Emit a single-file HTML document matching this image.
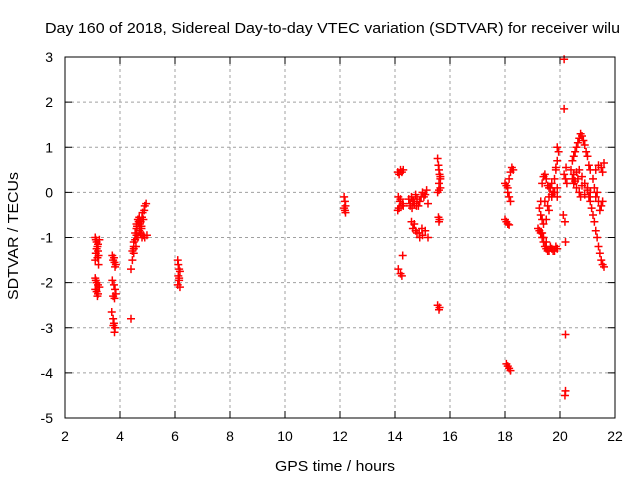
<!DOCTYPE html>
<html><head><meta charset="utf-8"><style>
html,body{margin:0;padding:0;background:#fff;}
svg{display:block;font-family:"Liberation Sans",sans-serif;}
</style></head><body>
<svg id="chart" width="640" height="480">
<text x="45" y="33" font-size="15" textLength="575" lengthAdjust="spacingAndGlyphs">Day 160 of 2018, Sidereal Day-to-day VTEC variation (SDTVAR) for receiver wilu</text>
<text x="275" y="471" font-size="15" textLength="120" lengthAdjust="spacingAndGlyphs">GPS time / hours</text>
<text transform="translate(18,300) rotate(-90)" font-size="15" textLength="128" lengthAdjust="spacingAndGlyphs">SDTVAR / TECUs</text>
<g id="grid"></g><g id="ticks"></g><g id="marks"></g>
<rect x="65" y="57" width="550" height="361" fill="none" stroke="#000" stroke-width="1"/>
</svg>
<script>
const xTicks=[2,4,6,8,10,12,14,16,18,20,22];
const yTicks=[3,2,1,0,-1,-2,-3,-4,-5];
const times=[3.1,3.12,3.15,3.18,3.2,3.22,3.1,3.15,3.2,3.25,3.12,3.18,3.22,3.1,3.15,3.2,3.1,3.15,3.2,3.25,3.12,3.18,
3.72,3.75,3.8,3.85,3.78,3.82,3.72,3.78,3.82,3.85,3.75,3.8,3.7,3.75,3.78,3.82,3.8,3.76,
4.4,4.4,4.45,4.5,4.5,4.55,4.6,4.62,4.65,4.7,4.72,4.75,4.78,4.8,4.82,4.85,4.88,4.9,4.95,4.98,4.5,4.55,4.6,4.65,4.7,4.75,4.8,4.85,4.6,4.7,4.45,4.5,4.58,4.68,4.78,4.9,
6.1,6.12,6.15,6.18,6.12,6.15,6.1,6.18,6.15,
12.15,12.18,12.2,12.15,12.2,12.18,
14.1,14.15,14.2,14.25,14.3,14.12,14.18,14.22,14.28,14.1,14.15,14.2,14.3,14.12,14.2,14.25,14.28,
14.5,14.55,14.6,14.65,14.7,14.75,14.8,14.85,14.9,14.95,15.0,15.05,15.1,15.15,15.2,14.6,14.65,14.7,14.75,14.8,14.9,15.0,15.1,15.2,14.55,14.62,14.68,14.78,14.88,14.98,
15.55,15.58,15.6,15.62,15.65,15.6,15.65,15.55,15.6,15.58,15.62,15.6,15.55,15.62,15.6,15.65,
18.0,18.05,18.1,18.15,18.2,18.25,18.3,18.1,18.15,18.2,18.0,18.05,18.1,18.15,18.05,18.1,18.15,18.2,
19.2,19.25,19.3,19.35,19.4,19.45,19.5,19.55,19.6,19.65,19.7,19.75,19.8,19.85,19.9,19.3,19.35,19.4,19.45,19.5,19.55,19.6,19.7,19.8,19.9,19.25,19.3,19.35,19.4,19.5,19.6,19.7,19.8,19.9,19.35,19.4,19.5,19.45,19.55,19.6,19.65,19.7,19.75,19.85,19.9,19.95,19.8,19.85,19.9,
20.15,20.15,20.2,20.2,20.18,20.22,20.15,20.2,20.25,20.12,20.18,20.2,
20.4,20.45,20.5,20.55,20.6,20.65,20.7,20.75,20.8,20.85,20.9,20.95,21.0,21.05,21.1,20.45,20.5,20.55,20.6,20.65,20.7,20.75,20.8,20.9,21.0,21.1,20.5,20.6,20.7,20.8,20.9,
21.0,21.05,21.1,21.15,21.2,21.25,21.3,21.35,21.4,21.45,21.5,21.55,21.6,21.2,21.3,21.4,21.5,21.55,21.6,21.3,21.4,21.5,21.45,21.55,21.25,21.35];
const values=[-1.0,-1.05,-1.1,-1.2,-1.3,-1.4,-1.5,-1.25,-1.15,-1.05,-1.35,-1.45,-1.6,-1.9,-2.0,-2.05,-2.15,-2.2,-2.25,-2.1,-1.95,-2.3,
-1.4,-1.5,-1.55,-1.6,-1.45,-1.65,-1.95,-2.05,-2.15,-2.25,-2.3,-2.35,-2.65,-2.8,-2.9,-3.0,-3.1,-2.95,
-2.8,-1.7,-1.5,-1.35,-1.2,-1.05,-0.95,-0.75,-0.6,-0.55,-0.7,-0.65,-0.8,-0.55,-0.45,-0.6,-0.4,-0.3,-0.25,-0.95,-1.1,-0.9,-0.8,-1.0,-0.85,-0.9,-1.0,-0.95,-0.7,-0.6,-1.3,-1.25,-1.2,-0.65,-0.75,-1.0,
-1.5,-1.6,-1.7,-1.75,-1.85,-1.95,-2.05,-2.1,-1.9,
-0.1,-0.2,-0.3,-0.35,-0.45,-0.4,
0.45,0.4,0.5,0.45,0.5,-0.1,-0.2,-0.3,-0.25,-0.4,-0.35,-0.15,-0.3,-1.7,-1.8,-1.85,-1.4,
-0.15,-0.3,-0.1,-0.2,-0.25,-0.05,-0.15,-0.3,-0.2,-0.1,0.0,-0.1,-0.05,0.05,-0.25,-0.65,-0.8,-0.7,-0.85,-0.9,-1.0,-0.95,-0.85,-1.0,-0.25,-0.35,-0.2,-0.3,-0.9,-0.8,
0.75,0.6,0.5,0.4,0.3,0.2,0.1,0.0,0.05,-0.55,-0.6,-0.65,-2.5,-2.55,-2.6,0.35,
0.2,0.15,0.1,0.3,0.45,0.55,0.5,0.0,-0.1,-0.2,-0.6,-0.65,-0.7,-0.72,-3.8,-3.85,-3.9,-3.95,
-0.8,-0.85,-0.9,-1.0,-1.1,-1.2,-1.25,-1.3,-1.3,-1.2,-1.25,-1.3,-1.3,-1.2,-1.25,-0.2,0.2,0.35,0.4,0.3,0.15,0.1,-0.05,0.0,0.1,-0.35,-0.5,-0.6,-0.7,-0.6,-0.4,-0.1,0.0,-0.1,-0.9,-1.0,-1.1,-0.2,-0.3,-0.1,0.1,0.2,0.0,0.5,0.7,0.9,0.3,0.55,1.0,
2.95,1.85,-3.15,-4.4,-4.5,0.55,0.4,0.3,0.2,-0.5,-0.65,-1.1,
0.5,0.7,0.8,0.9,1.0,1.1,1.2,1.3,1.25,1.15,1.05,0.9,0.8,0.6,0.5,0.3,0.2,0.25,0.1,0.3,0.0,-0.1,0.15,-0.05,0.1,0.0,0.4,0.45,0.5,0.35,0.2,
0.05,-0.1,-0.2,-0.35,-0.5,-0.65,-0.85,-1.0,-1.2,-1.35,-1.5,-1.6,-1.65,0.3,0.5,0.6,0.55,0.45,0.65,-0.1,-0.2,-0.3,-0.4,-0.2,0.1,0.0];
const X=t=>65+(t-2)*27.5, Y=v=>57+(3-v)*45.125;
const NS="http://www.w3.org/2000/svg";
const grid=document.getElementById('grid'),ticks=document.getElementById('ticks'),marks=document.getElementById('marks');
function mk(tag,attrs,parent){const e=document.createElementNS(NS,tag);for(const k in attrs)e.setAttribute(k,attrs[k]);parent.appendChild(e);return e;}
xTicks.forEach(t=>{const x=X(t);
 if(t>2&&t<22){const g=mk('line',{x1:x,x2:x,y1:57,y2:418,stroke:'#a0a0a0','stroke-dasharray':'3,3'},grid);
 
 }
 mk('line',{x1:x,x2:x,y1:418,y2:411,stroke:'#000'},ticks);mk('line',{x1:x,x2:x,y1:57,y2:64,stroke:'#000'},ticks);
 const l=mk('text',{x:x,y:441,'font-size':14,'text-anchor':'middle'},ticks);l.textContent=t;
 
 });
yTicks.forEach(v=>{const y=Y(v);
 if(v<3&&v>-5){const g=mk('line',{x1:65,x2:615,y1:y,y2:y,stroke:'#a0a0a0','stroke-dasharray':'3,3'},grid);
 
 }
 mk('line',{x1:65,x2:72,y1:y,y2:y,stroke:'#000'},ticks);mk('line',{x1:615,x2:608,y1:y,y2:y,stroke:'#000'},ticks);
 const l=mk('text',{x:53,y:y+5,'font-size':14,'text-anchor':'end'},ticks);l.textContent=v;
 
 });
for(let i=0;i<times.length;i++){const x=X(times[i]),y=Y(values[i]);
 const p=mk('path',{d:`M${x-4} ${y}H${x+4}M${x} ${y-4}V${y+4}`,stroke:'#ff0000','stroke-width':1.5},marks);
 
 }
</script>
</body></html>
